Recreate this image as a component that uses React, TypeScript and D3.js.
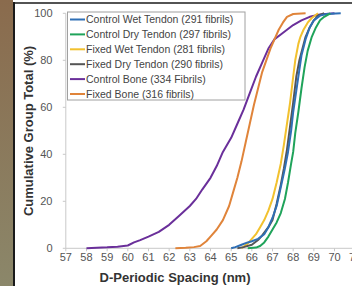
import React from "react";
import * as d3 from "d3";

const xTicks = [57, 58, 59, 60, 61, 62, 63, 64, 65, 66, 67, 68, 69, 70, 71];
const yTicks = [0, 20, 40, 60, 80, 100];

const seriesNames = [
  "Control Wet Tendon (291 fibrils)",
  "Control Dry Tendon (297 fibrils)",
  "Fixed Wet Tendon (281 fibrils)",
  "Fixed Dry Tendon (290 fibrils)",
  "Control Bone (334 Fibrils)",
  "Fixed Bone (316 fibrils)",
];
const seriesColors = ["#2f6fb5", "#1fa35a", "#f2c12e", "#555555", "#6a2f9a", "#e0843a"];

// [spacing nm, cumulative %]
const controlWet: [number, number][] = [
  [65.0, 0], [65.2, 0.5], [65.5, 1.5], [65.8, 2.5], [66.0, 3], [66.3, 4], [66.6, 6], [66.8, 9],
  [67.0, 13], [67.2, 18], [67.4, 26], [67.6, 34], [67.75, 41], [67.9, 50], [68.0, 58],
  [68.15, 67], [68.3, 76], [68.4, 82], [68.6, 89], [68.8, 94], [69.0, 97], [69.3, 99], [69.6, 99.7], [70.3, 100],
];
const controlDry: [number, number][] = [
  [65.8, 0], [66.2, 0.3], [66.4, 1], [66.6, 2.5], [66.8, 5], [67.0, 8], [67.2, 11], [67.4, 15],
  [67.6, 21], [67.75, 28], [67.9, 36], [68.0, 41], [68.1, 49], [68.25, 58], [68.4, 68],
  [68.55, 77], [68.7, 84], [68.9, 90], [69.1, 94], [69.3, 97], [69.5, 98.5], [69.8, 100],
];
const fixedWet: [number, number][] = [
  [65.5, 0], [65.8, 2], [66.0, 4], [66.2, 6], [66.4, 9], [66.6, 12], [66.8, 16], [67.0, 21],
  [67.2, 28], [67.4, 36], [67.55, 44], [67.7, 53], [67.85, 62], [68.0, 73], [68.1, 80],
  [68.25, 87], [68.35, 90], [68.5, 93], [68.7, 96], [68.9, 98], [69.2, 100],
];
const fixedDry: [number, number][] = [
  [65.3, 0], [65.6, 0.5], [66.0, 1.5], [66.3, 3.5], [66.5, 5.5], [66.8, 9], [67.0, 12],
  [67.2, 19], [67.4, 27], [67.55, 34], [67.7, 42], [67.85, 52], [68.0, 62], [68.15, 73],
  [68.3, 80], [68.45, 85], [68.6, 90], [68.8, 94], [69.0, 97], [69.2, 99], [69.5, 100],
];
const controlBone: [number, number][] = [
  [58.0, 0], [58.5, 0.2], [59.0, 0.4], [59.5, 0.7], [60.0, 1.2], [60.3, 2.5], [60.6, 3.5],
  [61.0, 5], [61.5, 7], [62.0, 10], [62.5, 14], [63.0, 18], [63.3, 21], [63.6, 25],
  [64.0, 30], [64.3, 35], [64.6, 41], [65.0, 47], [65.3, 53], [65.6, 59], [65.9, 66],
  [66.2, 73], [66.5, 79], [66.8, 85], [67.1, 89], [67.4, 91], [67.7, 93], [68.0, 95],
  [68.4, 97], [68.8, 98.5], [69.3, 99.5], [70.0, 100],
];
const fixedBone: [number, number][] = [
  [62.3, 0], [62.8, 0.2], [63.2, 0.5], [63.5, 1], [63.8, 3], [64.0, 5], [64.3, 8],
  [64.6, 12], [64.9, 18], [65.1, 24], [65.3, 30], [65.5, 37], [65.7, 45], [65.9, 53],
  [66.1, 61], [66.3, 68], [66.5, 75], [66.7, 80], [66.9, 85], [67.1, 89], [67.3, 93],
  [67.5, 96], [67.7, 98.5], [68.0, 99.7], [68.6, 100],
];

const allSeries = [controlWet, controlDry, fixedWet, fixedDry, controlBone, fixedBone];

export default function App() {
  const W = 352;
  const H = 286;
  const x = d3.scaleLinear().domain([57, 71]).range([65.8, 355.2]);
  const y = d3.scaleLinear().domain([0, 100]).range([248.3, 13.3]);
  const line = d3
    .line<[number, number]>()
    .x((d) => x(d[0]))
    .y((d) => y(d[1]));
  const axisColor = "#c9c9c9";
  const font = "'Liberation Sans', Arial, sans-serif";
  const drawOrder = [4, 5, 2, 3, 0, 1];

  return (
    <svg
      width={W}
      height={H}
      style={{ position: "absolute", left: 0, top: 0 }}
      fontFamily={font}
    >
      <defs>
        <linearGradient id="brown" x1="0" y1="0" x2="0" y2="1">
          <stop offset="0" stopColor="#8a6b4d" />
          <stop offset="1" stopColor="#8b876a" />
        </linearGradient>
      </defs>
      <rect x={0} y={0} width={W} height={H} fill="#ffffff" />
      <rect x={0} y={0} width={13} height={H} fill="url(#brown)" />
      <line x1={14} x2={14} y1={2} y2={H} stroke="#1a1a1a" strokeWidth={2} />
      <line x1={13} x2={W} y1={3} y2={3} stroke="#1a1a1a" strokeWidth={1.5} />

      {/* axes */}
      <line x1={x(57)} x2={x(57)} y1={y(100)} y2={y(0)} stroke={axisColor} strokeWidth={1} />
      <line x1={x(57)} x2={W} y1={y(0)} y2={y(0)} stroke={axisColor} strokeWidth={1} />
      {yTicks.map((t) => (
        <g key={"y" + t}>
          <line x1={x(57) - 3} x2={x(57)} y1={y(t)} y2={y(t)} stroke={axisColor} />
          <text
            x={52.5}
            y={y(t)}
            dy="0.35em"
            textAnchor="end"
            fontSize={11}
            fill="#555"
          >
            {t}
          </text>
        </g>
      ))}
      {xTicks.map((t) => (
        <g key={"x" + t}>
          <line x1={x(t)} x2={x(t)} y1={y(0)} y2={y(0) + 3} stroke={axisColor} />
          <text x={x(t)} y={261} textAnchor="middle" fontSize={11} fill="#555">
            {t}
          </text>
        </g>
      ))}

      {/* series */}
      {drawOrder.map((i) => (
        <path
          key={"s" + i}
          d={line(allSeries[i]) || ""}
          fill="none"
          stroke={seriesColors[i]}
          strokeWidth={2}
          strokeLinejoin="round"
        />
      ))}

      {/* legend */}
      <rect x={67.5} y={12} width={177.5} height={88} fill="#ffffff" stroke="#a0a0a0" strokeWidth={1} />
      {seriesNames.map((n, i) => {
        const cy = 19.5 + i * 14.9;
        return (
          <g key={"l" + i}>
            <line x1={70} x2={85} y1={cy} y2={cy} stroke={seriesColors[i]} strokeWidth={2} />
            <text x={86} y={cy} dy="0.35em" fontSize={10.5} fill="#444">
              {n}
            </text>
          </g>
        );
      })}

      {/* titles */}
      <text
        transform={`translate(33,${131}) rotate(-90)`}
        textAnchor="middle"
        fontSize={13}
        fontWeight="bold"
        fill="#333"
      >
        Cumulative Group Total (%)
      </text>
      <text x={175} y={282} textAnchor="middle" fontSize={13} fontWeight="bold" fill="#333">
        D-Periodic Spacing (nm)
      </text>
    </svg>
  );
}
